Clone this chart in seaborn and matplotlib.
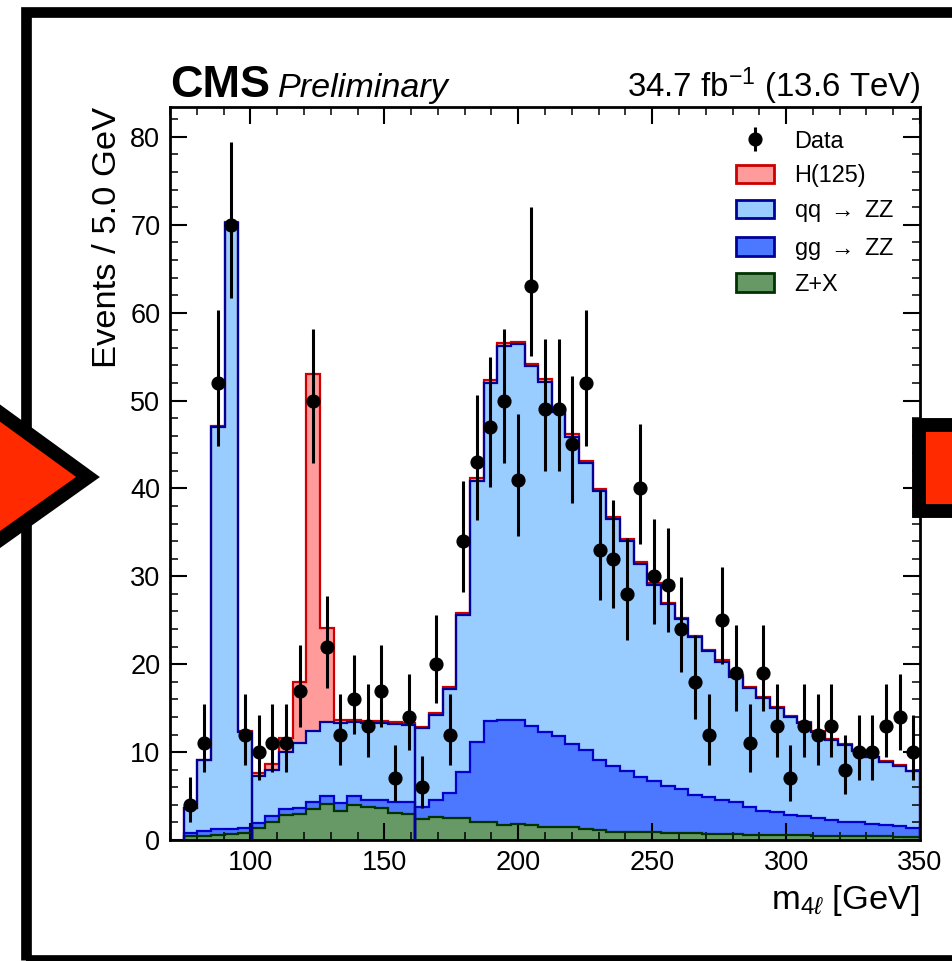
import numpy as np
import pandas as pd
import matplotlib
matplotlib.use("Agg")
import matplotlib.pyplot as plt
import seaborn as sns
from matplotlib.patches import Patch, Polygon, Rectangle
from matplotlib.ticker import MultipleLocator

# ---------------------------------------------------------------- data
# 55 equal bins between 70 and 350 GeV; the first one (70-75 GeV) is empty,
# so the populated bins start at the second edge.
edges = np.linspace(70, 350, 56)[1:]
centers = 0.5 * (edges[:-1] + edges[1:])

data = [4, 11, 52, 70, 12, 10, 11, 11, 17,
        50, 22, 12, 16, 13, 17, 7, 14, 6,
        20, 12, 34, 43, 47, 50, 41, 63, 49,
        49, 45, 52, 33, 32, 28, 40, 30, 29,
        24, 18, 12, 25, 19, 11, 19, 13, 7,
        13, 12, 13, 8, 10, 10, 13, 14, 10]

zplusx = [0.40, 0.50, 0.60, 0.70, 0.80, 1.40, 2.10, 2.80, 3.00,
          3.50, 4.10, 3.30, 4.00, 3.70, 3.60, 3.10, 3.00, 2.35,
          2.65, 2.55, 2.55, 2.00, 2.10, 1.70, 1.80, 1.66, 1.50,
          1.50, 1.45, 1.25, 1.14, 0.95, 0.95, 0.90, 0.87, 0.80,
          0.78, 0.75, 0.72, 0.70, 0.65, 0.62, 0.60, 0.58, 0.55,
          0.53, 0.50, 0.48, 0.46, 0.44, 0.42, 0.40, 0.38, 0.36]

ggzz = [0.43, 0.55, 0.60, 0.60, 0.60, 0.57, 0.60, 0.70, 0.60,
        0.80, 0.90, 0.90, 1.00, 0.90, 0.90, 1.26, 1.30, 1.45,
        1.85, 2.75, 5.15, 9.10, 11.40, 12.00, 11.85, 11.31, 10.80,
        10.30, 9.45, 8.95, 7.96, 7.45, 6.95, 6.30, 5.88, 5.34,
        4.98, 4.35, 4.18, 3.90, 3.63, 3.18, 2.74, 2.62, 2.30,
        2.22, 2.05, 1.82, 1.64, 1.56, 1.38, 1.35, 1.22, 1.00]

qqzz = [2.77, 8.05, 45.80, 68.90, 10.90, 5.33, 5.30, 6.50, 7.40,
        8.10, 8.40, 9.10, 8.40, 8.70, 8.80, 8.84, 8.80, 8.90,
        9.70, 11.90, 17.90, 29.80, 38.50, 42.50, 42.75, 40.93, 39.80,
        36.90, 35.00, 32.70, 30.60, 28.10, 26.10, 24.20, 22.25, 20.66,
        19.34, 18.00, 16.60, 15.70, 14.32, 13.50, 12.76, 11.80, 11.15,
        10.55, 9.75, 9.10, 8.70, 8.10, 7.60, 7.15, 6.80, 6.44]

higgs = [0.02, 0.05, 0.10, 0.15, 0.10, 0.30, 0.70, 1.60, 7.00,
         40.60, 10.70, 0.40, 0.30, 0.25, 0.20, 0.20, 0.20, 0.20,
         0.20, 0.20, 0.20, 0.25, 0.30, 0.30, 0.30, 0.30, 0.30,
         0.25, 0.25, 0.25, 0.20, 0.20, 0.20, 0.20, 0.20, 0.20,
         0.15, 0.15, 0.15, 0.15, 0.15, 0.15, 0.15, 0.15, 0.15,
         0.10, 0.10, 0.10, 0.10, 0.10, 0.10, 0.10, 0.10, 0.10]

labels = ["H(125)", r"qq $\rightarrow$ ZZ", r"gg $\rightarrow$ ZZ", "Z+X"]
yields = [higgs, qqzz, ggzz, zplusx]
fill_colors = ["#ff9b9b", "#99ccff", "#4b78ff", "#669966"]
line_colors = ["#cc0000", "#000099", "#000099", "#003300"]

# ---------------------------------------------------------------- style
plt.rcParams["font.family"] = ["Liberation Sans", "DejaVu Sans"]
plt.rcParams["mathtext.fontset"] = "custom"
plt.rcParams["mathtext.rm"] = "Liberation Sans"
plt.rcParams["mathtext.it"] = "Liberation Sans:italic"
plt.rcParams["mathtext.bf"] = "Liberation Sans:bold"
plt.rcParams["mathtext.fallback"] = "stixsans"

W, H = 952, 961
fig = plt.figure(figsize=(W / 100, H / 100), dpi=100)
ax = fig.add_axes([170 / W, 1 - 840 / H, 750 / W, 733 / H])

# ---------------------------------------------------------------- stack
rows = []
for lab, vals in zip(labels, yields):
    for c, v in zip(centers, vals):
        rows.append({"m4l": c, "events": v, "process": lab})
df = pd.DataFrame(rows)

sns.histplot(data=df, x="m4l", weights="events", hue="process",
             hue_order=labels, palette=dict(zip(labels, fill_colors)),
             multiple="stack", bins=[float(e) for e in edges],
             element="step", fill=True, alpha=1, linewidth=0,
             legend=False, ax=ax)

# outlines of the stacked layers (bottom to top), split where the mass
# regions of the templates join
tops = np.cumsum(np.array(yields[::-1]), axis=0)
segments = [(0, 5), (5, 17), (17, len(centers))]
ax.stairs(tops[3], edges, baseline=0, color=line_colors[0], lw=1.6, zorder=3)
split_colors = ["#003300", "#0000cc", "#000099"]
for level, lc in zip(range(3), split_colors):
    for a, b in segments:
        ax.stairs(tops[level][a:b], edges[a:b + 1], baseline=0,
                  color=lc, lw=1.6, zorder=3)

# ---------------------------------------------------------------- data
n = np.array(data, dtype=float)
err_lo = n - np.maximum(n - np.sqrt(np.maximum(n - 0.25, 0)), 0)
err_hi = np.sqrt(n + 0.75) + 1
eb = ax.errorbar(centers, n, yerr=[err_lo, err_hi], fmt="o", color="black",
                 ms=9.2, elinewidth=2.2, capsize=0, zorder=5, label="Data")

# ---------------------------------------------------------------- axes
ax.set_xlim(70, 350)
ax.set_ylim(0, 83.4)
ax.xaxis.set_major_locator(MultipleLocator(50))
ax.xaxis.set_minor_locator(MultipleLocator(10))
ax.yaxis.set_major_locator(MultipleLocator(10))
ax.yaxis.set_minor_locator(MultipleLocator(2))
ax.tick_params(which="both", direction="in", top=True, right=True,
               labelsize=19.5)
ax.tick_params(which="major", length=12, width=1.5, pad=7)
ax.tick_params(which="minor", length=6, width=1.1)
for s in ax.spines.values():
    s.set_linewidth(2)

ax.set_ylabel("Events / 5.0 GeV", fontsize=24.8, loc="top", labelpad=5)
ax.set_xlabel(r"m$_{4\ell}$ [GeV]", fontsize=24.8, loc="right", labelpad=5)

ax.text(0, 1.0136, "CMS", transform=ax.transAxes, fontsize=32.4,
        fontweight="bold", ha="left", va="baseline")
ax.text(0.144, 1.0136, "Preliminary", transform=ax.transAxes, fontsize=24.6,
        fontstyle="italic", ha="left", va="baseline")
ax.text(1.0, 1.0136, r"34.7 fb$^{-1}$ (13.6 TeV)", transform=ax.transAxes,
        fontsize=23.8, ha="right", va="baseline")

handles = [eb] + [Patch(facecolor=f, edgecolor=l, linewidth=2)
                  for f, l in zip(fill_colors, line_colors)]
ax.legend(handles, ["Data"] + labels, loc="upper left",
          bbox_to_anchor=(0.754, 0.969), frameon=False, fontsize=16.9,
          handlelength=1.65, handleheight=0.83, handletextpad=0.85,
          labelspacing=0.48, borderpad=0, borderaxespad=0)

# ---------------------------------------------------------------- frame
def px(x, y):
    return (x / W, 1 - y / H)

frame = Rectangle(px(26, 960), (990 - 26) / W, (960 - 12) / H,
                  transform=fig.transFigure, fill=False, edgecolor="black",
                  linewidth=7.7, zorder=0)
fig.add_artist(frame)
arrow_left = Polygon([px(88, 477), px(-40, 384), px(-40, 568)], closed=True,
                     transform=fig.transFigure, facecolor="#ff2a00",
                     edgecolor="black", linewidth=10, joinstyle="miter",
                     zorder=2)
fig.add_artist(arrow_left)
box_right = Rectangle(px(919, 511), 80 / W, 86 / H, transform=fig.transFigure,
                      facecolor="#ff2a00", edgecolor="black", linewidth=10,
                      zorder=2)
fig.add_artist(box_right)

fig.savefig("out.png", dpi=100)
